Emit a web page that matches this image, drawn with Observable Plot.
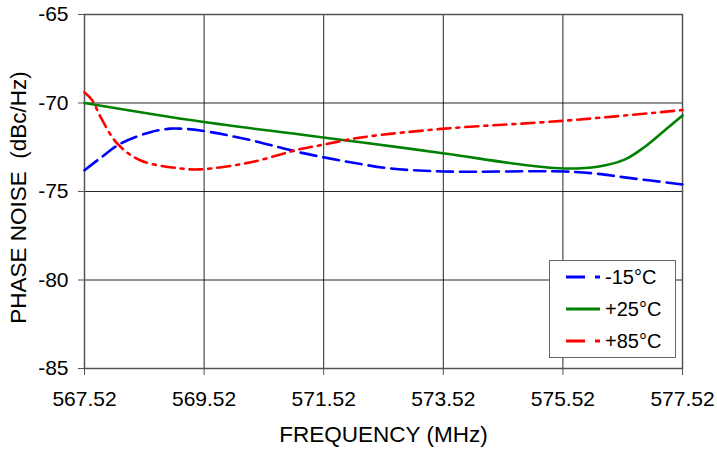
<!DOCTYPE html>
<html><head><meta charset="utf-8">
<script src="https://cdn.jsdelivr.net/npm/d3@7"></script>
<script src="https://cdn.jsdelivr.net/npm/@observablehq/plot@0.6"></script>
<style>
body{margin:0;background:#fff;font-family:"Liberation Sans",Arial,sans-serif;}
#wrap{position:relative;width:717px;height:451px;}
#legend{position:absolute;left:549px;top:260px;width:125px;height:96px;border:1px solid #666;background:#fff;font-size:20px;color:#000;}
.row{position:absolute;left:16px;height:24px;display:flex;align-items:center;}
.row svg{margin-right:3px;}
</style></head>
<body><div id="wrap"><div id="legend"></div></div>
<script>
const xTicks = [567.52, 569.52, 571.52, 573.52, 575.52, 577.52];
const yTicks = [-85, -80, -75, -70, -65];
const xTitle = "FREQUENCY (MHz)";
const yTitle = "PHASE NOISE\u00a0 (dBc/Hz)";
const seriesNames = ["-15°C", "+25°C", "+85°C"];
const seriesColors = ["#0000ff", "#008000", "#ff0000"];
const seriesDash = ["16,7", null, "13,6,3,6"];

const freqBlue = [567.52, 567.79, 568.12, 568.62, 568.96, 569.13, 569.46, 570.30, 571.13, 572.14, 572.64, 573.54, 575.55, 576.10, 576.55, 577.52];
const valBlue  = [-73.8, -73.1, -72.3, -71.65, -71.45, -71.45, -71.55, -72.1, -72.8, -73.45, -73.7, -73.87, -73.87, -74.0, -74.2, -74.6];

const freqGreen = [567.52, 569.46, 571.13, 572.14, 573.54, 574.88, 575.55, 576.10, 576.55, 576.88, 577.22, 577.52];
const valGreen  = [-70.0, -71.05, -71.78, -72.22, -72.85, -73.5, -73.7, -73.6, -73.2, -72.5, -71.55, -70.7];

const freqRed = [567.52, 567.65, 567.79, 568.07, 568.46, 569.13, 569.46, 570.30, 571.13, 571.52, 572.14, 573.54, 575.55, 577.52];
const valRed  = [-69.4, -69.85, -70.8, -72.3, -73.25, -73.7, -73.75, -73.35, -72.6, -72.35, -71.95, -71.45, -71.0, -70.4];

const freqs = [freqBlue, freqGreen, freqRed];
const vals = [valBlue, valGreen, valRed];

const lineMarks = seriesNames.map((name, i) =>
  Plot.line(freqs[i].map((f, j) => ({f, v: vals[i][j]})), {
    x: "f", y: "v", stroke: seriesColors[i], strokeWidth: 2.6,
    strokeDasharray: seriesDash[i], curve: "catmull-rom"
  })
);

const chart = Plot.plot({
  width: 717, height: 451,
  marginLeft: 84, marginRight: 35, marginTop: 14, marginBottom: 83,
  style: {fontFamily: "'Liberation Sans', Arial, sans-serif", fontSize: "21px", color: "#000", background: "#fff"},
  x: {domain: [567.52, 577.52]},
  y: {domain: [-85, -65]},
  marks: [
    Plot.gridX(xTicks, {stroke: "#000", strokeOpacity: 0.85, strokeWidth: 1}),
    Plot.gridY(yTicks, {stroke: "#000", strokeOpacity: 0.85, strokeWidth: 1}),
    Plot.frame({stroke: "#555", strokeWidth: 1.5}),
    Plot.axisX(xTicks, {tickFormat: d => d.toFixed(2), tickSize: 7, tickPadding: 16, stroke: "#555", label: null, fontSize: 21}),
    Plot.axisY(yTicks, {tickFormat: d => String(d), tickSize: 6, tickPadding: 10, stroke: "#555", label: null, fontSize: 21}),
    Plot.text([xTitle], {frameAnchor: "bottom", dy: 73, fontSize: 22.5, text: d => d}),
    Plot.text([yTitle], {frameAnchor: "left", textAnchor: "middle", rotate: -90, dx: -66, dy: 6, fontSize: 22.5, text: d => d}),
    ...lineMarks
  ]
});
document.getElementById("wrap").prepend(chart);

const legend = document.getElementById("legend");
seriesNames.forEach((name, i) => {
  const row = document.createElement("div");
  row.className = "row";
  row.style.top = (4 + i * 32) + "px";
  row.innerHTML = `<svg width="36" height="10"><line x1="0" y1="5" x2="34" y2="5" stroke="${seriesColors[i]}" stroke-width="3" ${seriesDash[i] ? `stroke-dasharray="19,10,5"` : ""}/></svg><span>${name}</span>`;
  legend.appendChild(row);
});
</script>
</body></html>
